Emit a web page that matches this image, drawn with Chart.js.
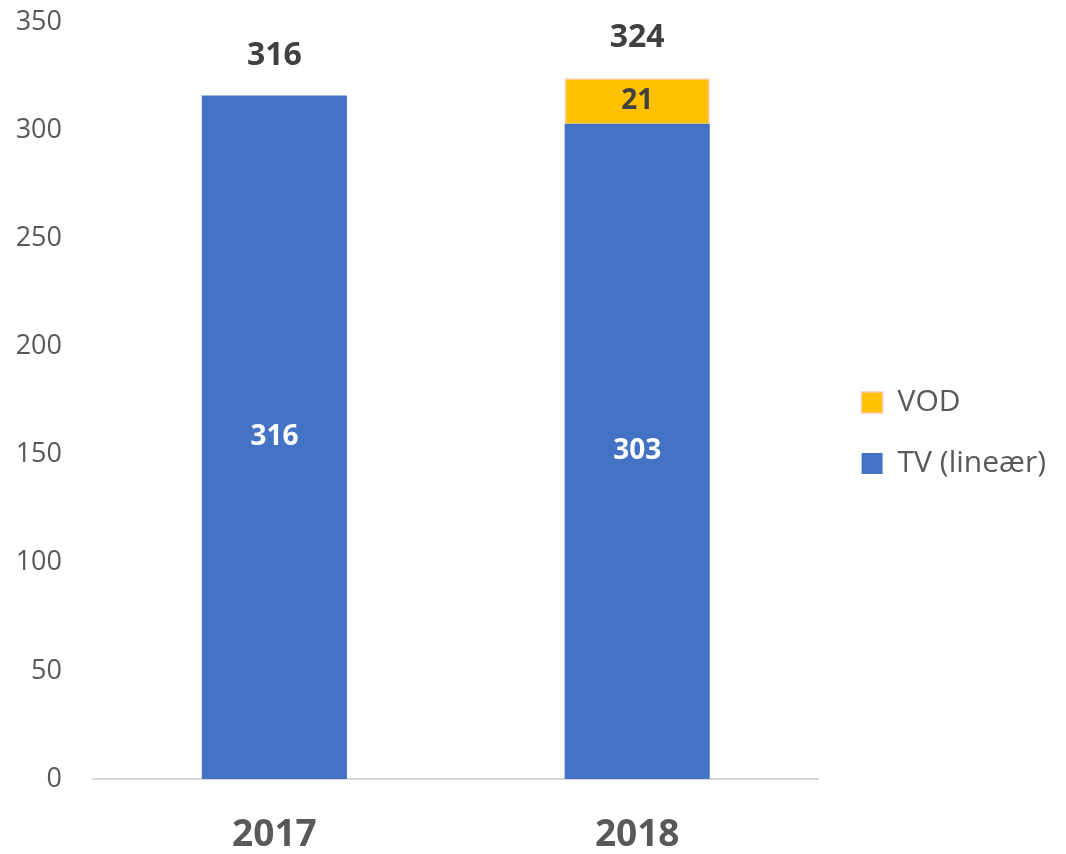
<!DOCTYPE html>
<html>
<head>
<meta charset="utf-8">
<script src="https://cdn.jsdelivr.net/npm/chart.js@4/dist/chart.umd.min.js"></script>
<style>
  html, body { margin: 0; padding: 0; background: #fff; }
  #wrap { width: 1066px; height: 854px; position: relative; }
</style>
</head>
<body>
<div id="wrap"><canvas id="chart"></canvas></div>
<script>
// data
const years = ['2017', '2018'];
const tvValues = [316, 303];
const vodValues = [null, 21];
const totals = [316, 324];
const yTicks = [0, 50, 100, 150, 200, 250, 300, 350];

const FONT = "'Open Sans', 'Liberation Sans', sans-serif";

// value labels inside segments and totals above the stacks
const valueLabels = {
    id: 'valueLabels',
    afterLayout(chart) {
        // nudge legend towards the right edge / up a little
        const lg = chart.legend;
        if (lg) { lg.left += 12; lg.right += 12; lg.top -= 5; lg.bottom -= 5; }
    },
    afterDatasetsDraw(chart) {
        const ctx = chart.ctx;
        const y = chart.scales.y;
        ctx.save();
        ctx.textAlign = 'center';
        ctx.textBaseline = 'middle';
        ctx.font = "bold 28px " + FONT;
        chart.data.datasets.forEach((ds, di) => {
            const meta = chart.getDatasetMeta(di);
            meta.data.forEach((el, i) => {
                const v = ds.data[i];
                if (v == null) return;
                ctx.fillStyle = ds.labelColor;
                ctx.fillText(String(v), el.x, (el.y + el.base) / 2);
            });
        });
        const base = chart.getDatasetMeta(0);
        ctx.font = "bold 32px " + FONT;
        totals.forEach((t, i) => {
            ctx.fillStyle = '#404040';
            ctx.fillText(String(t), base.data[i].x, y.getPixelForValue(t) - 40);
        });
        ctx.restore();
    }
};

new Chart(document.getElementById('chart'), {
    type: 'bar',
    data: {
        labels: years,
        datasets: [
            { label: 'TV (lineær)', data: tvValues, backgroundColor: '#4472C4', borderWidth: 0, labelColor: '#ffffff' },
            { label: 'VOD', data: vodValues, backgroundColor: '#FFC000', borderColor: '#F8CBAD', borderWidth: 1.5, labelColor: '#404040' }
        ]
    },
    options: {
        responsive: true,
        maintainAspectRatio: false,
        animation: false,
        layout: { padding: { top: 22, left: 0, right: 22, bottom: 0 } },
        datasets: { bar: { barPercentage: 0.4, categoryPercentage: 1 } },
        plugins: {
            legend: {
                position: 'right',
                reverse: true,
                labels: {
                    boxWidth: 21, boxHeight: 21,
                    padding: 31,
                    color: '#595959',
                    font: { family: FONT, size: 30 }
                }
            },
            tooltip: { enabled: false }
        },
        scales: {
            x: {
                stacked: true,
                grid: { display: false, drawTicks: false },
                border: { display: true, color: '#d9d9d9', width: 2 },
                ticks: { color: '#595959', padding: 34, font: { family: FONT, size: 37, weight: 'bold' } },
                afterFit: axis => { axis.height = 854 - 779; axis.paddingLeft = 0; axis.paddingRight = 0; }
            },
            y: {
                stacked: true,
                min: 0, max: 350,
                afterBuildTicks: axis => { axis.ticks = yTicks.map(v => ({ value: v })); },
                grid: { display: false, drawTicks: false },
                border: { display: false },
                ticks: { color: '#595959', padding: 31, font: { family: FONT, size: 27 } },
                afterFit: axis => { axis.width = 93; axis.paddingTop = 0; axis.paddingBottom = 0; }
            }
        }
    },
    plugins: [valueLabels]
});
</script>
</body>
</html>
